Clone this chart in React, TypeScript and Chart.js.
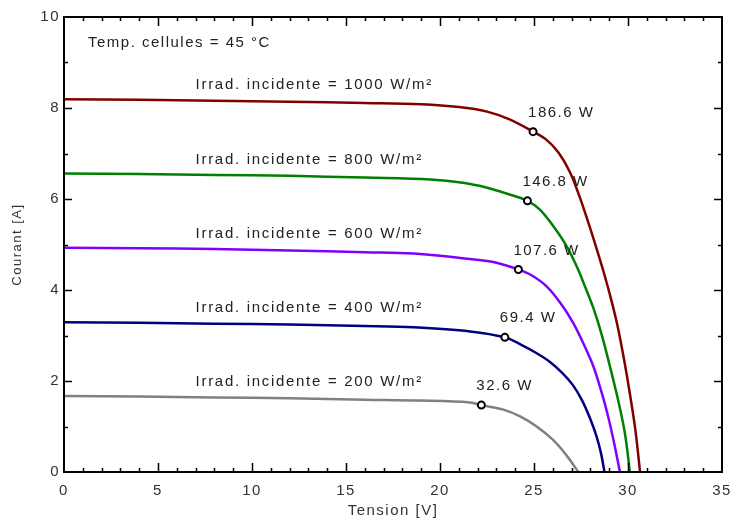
import { useEffect, useRef } from "react";
import { Chart, registerables } from "chart.js";

Chart.register(...registerables);

// ---- Data ----
const xTickValues = [0, 5, 10, 15, 20, 25, 30, 35];
const yTickValues = [0, 2, 4, 6, 8, 10];

const irradiances = [1000, 800, 600, 400, 200];
const seriesColors = ["#800000", "#008000", "#8000ff", "#000080", "#808080"];

const v1000 = [0, 4, 8, 12, 16, 19, 21, 22.5, 23.7, 24.95, 25.67, 26.3, 26.9, 27.4, 27.9, 28.35, 28.75, 29.1, 29.45, 29.8, 30.1, 30.4, 30.64];
const i1000 = [8.19, 8.18, 8.16, 8.14, 8.11, 8.08, 8.02, 7.92, 7.75, 7.48, 7.3, 7.02, 6.6, 6.08, 5.47, 4.88, 4.33, 3.8, 3.2, 2.45, 1.72, 0.9, 0];

const v800 = [0, 4, 8, 12, 16, 19.5, 21, 22.1, 23.7, 24.65, 25.3, 26.03, 26.74, 27.27, 27.71, 28.16, 28.6, 29.04, 29.49, 29.84, 30.1];
const i800 = [6.56, 6.55, 6.53, 6.51, 6.47, 6.43, 6.37, 6.29, 6.1, 5.96, 5.77, 5.4, 4.96, 4.52, 4.08, 3.6, 3.02, 2.32, 1.55, 0.84, 0];

const v600 = [0, 4, 8, 12, 16, 18.6, 21.6, 23, 24.17, 24.8, 25.67, 26.5, 27.09, 27.62, 28.16, 28.51, 28.87, 29.22, 29.57];
const i600 = [4.93, 4.92, 4.9, 4.87, 4.83, 4.8, 4.68, 4.6, 4.45, 4.34, 4.08, 3.66, 3.27, 2.83, 2.32, 1.87, 1.34, 0.72, 0];

const v400 = [0, 4, 8, 12, 16, 18.6, 21.6, 23.45, 24.3, 25.1, 25.85, 26.5, 27.05, 27.55, 28.0, 28.33, 28.56, 28.75];
const i400 = [3.29, 3.28, 3.26, 3.24, 3.21, 3.18, 3.09, 2.96, 2.8, 2.62, 2.42, 2.18, 1.92, 1.58, 1.16, 0.78, 0.42, 0];

const v200 = [0, 4, 8, 12, 16, 18.9, 21.6, 22.2, 23.37, 24.26, 25.14, 26.03, 26.74, 27.36];
const i200 = [1.67, 1.66, 1.64, 1.62, 1.59, 1.57, 1.53, 1.47, 1.37, 1.22, 1.0, 0.7, 0.36, 0];

const voltages = [v1000, v800, v600, v400, v200];
const currents = [i1000, i800, i600, i400, i200];

const mppVoltage = [24.95, 24.65, 24.17, 23.45, 22.2];
const mppCurrent = [7.48, 5.96, 4.45, 2.96, 1.47];
const mppLabels = ["186.6 W", "146.8 W", "107.6 W", "69.4 W", "32.6 W"];

const irradLabelVoltage = 7;
const tempLabel = "Temp. cellules = 45 °C";
const xTitle = "Tension [V]";
const yTitle = "Courant [A]";

const FONT = "'Liberation Sans', Arial, sans-serif";

export default function App() {
  const canvasRef = useRef<HTMLCanvasElement | null>(null);

  useEffect(() => {
    document.body.style.margin = "0";
    const canvas = canvasRef.current;
    if (!canvas) return;

    const spacingPlugin = {
      id: "spacing",
      beforeDraw(chart: any) {
        chart.ctx.letterSpacing = "1.5px";
      },
    };

    const framePlugin = {
      id: "frame",
      afterDatasetsDraw(chart: any) {
        const { ctx, chartArea: a, scales } = chart;
        const xs = scales.x;
        const ys = scales.y;
        ctx.save();
        ctx.strokeStyle = "#000";
        ctx.lineWidth = 1.5;
        ctx.beginPath();
        for (let v = 1; v < 35; v++) {
          const len = v % 5 === 0 ? 9 : 4;
          const px = Math.round(xs.getPixelForValue(v)) + 0.5;
          ctx.moveTo(px, a.bottom);
          ctx.lineTo(px, a.bottom - len);
          ctx.moveTo(px, a.top);
          ctx.lineTo(px, a.top + len);
        }
        for (let v = 1; v < 10; v++) {
          const len = v % 2 === 0 ? 8 : 4;
          const py = Math.round(ys.getPixelForValue(v)) + 0.5;
          ctx.moveTo(a.left, py);
          ctx.lineTo(a.left + len, py);
          ctx.moveTo(a.right, py);
          ctx.lineTo(a.right - len, py);
        }
        ctx.stroke();
        ctx.lineWidth = 2;
        ctx.strokeRect(a.left, a.top, a.right - a.left, a.bottom - a.top);

        // annotations
        ctx.fillStyle = "#222";
        ctx.font = `15px ${FONT}`;
        ctx.letterSpacing = "1.5px";
        ctx.textAlign = "left";
        ctx.textBaseline = "middle";
        ctx.fillText(tempLabel, a.left + 24, a.top + 26);
        mppLabels.forEach((lab, k) => {
          const px = xs.getPixelForValue(mppVoltage[k]) - 5;
          const py = ys.getPixelForValue(mppCurrent[k]) - 19;
          ctx.fillText(lab, px, py);
        });
        ctx.letterSpacing = "1.7px";
        irradiances.forEach((irr, k) => {
          const px = xs.getPixelForValue(irradLabelVoltage);
          const py = ys.getPixelForValue(currents[k][0]) - 14;
          ctx.fillText(`Irrad. incidente = ${irr} W/m²`, px, py);
        });
        ctx.restore();
      },
    };

    const curveSets = voltages.map((vs, k) => ({
      label: `${irradiances[k]} W/m²`,
      data: vs.map((v, j) => ({ x: v, y: currents[k][j] })),
      showLine: true,
      borderColor: seriesColors[k],
      borderWidth: 2.5,
      pointRadius: 0,
      tension: 0.35,
      fill: false,
    }));

    const mppSet = {
      label: "MPP",
      data: mppVoltage.map((v, j) => ({ x: v, y: mppCurrent[j] })),
      showLine: false,
      pointRadius: 3.5,
      pointBorderWidth: 2,
      pointBorderColor: "#000",
      pointBackgroundColor: "#fff",
      borderColor: "#000",
      backgroundColor: "#fff",
    };

    const chart = new Chart(canvas, {
      type: "scatter",
      data: { datasets: [mppSet as any, ...curveSets] },
      plugins: [spacingPlugin, framePlugin],
      options: {
        responsive: false,
        animation: false,
        layout: { padding: { top: 17, right: 10, left: 0, bottom: 0 } },
        plugins: {
          legend: { display: false },
          tooltip: { enabled: false },
        },
        scales: {
          x: {
            type: "linear",
            min: 0,
            max: 35,
            afterBuildTicks: (s: any) => {
              s.ticks = xTickValues.map((v) => ({ value: v }));
            },
            afterFit: (s: any) => {
              s.height = 50;
              s.paddingLeft = 0;
              s.paddingRight = 0;
            },
            grid: { display: false, drawTicks: false },
            border: { display: false },
            ticks: {
              padding: 10,
              color: "#333",
              font: { family: FONT, size: 15 },
              maxRotation: 0,
            },
            title: {
              display: true,
              text: xTitle,
              color: "#333",
              font: { family: FONT, size: 15 },
              padding: { top: 0, bottom: 2 },
            },
          },
          y: {
            type: "linear",
            min: 0,
            max: 10,
            afterBuildTicks: (s: any) => {
              s.ticks = yTickValues.map((v) => ({ value: v }));
            },
            afterFit: (s: any) => {
              s.width = 64;
              s.paddingTop = 0;
              s.paddingBottom = 0;
            },
            grid: { display: false, drawTicks: false },
            border: { display: false },
            ticks: {
              padding: 4,
              color: "#333",
              font: { family: FONT, size: 15 },
            },
            title: {
              display: true,
              text: yTitle,
              color: "#333",
              font: { family: FONT, size: 13 },
              padding: { top: 10, bottom: 0 },
            },
          },
        },
      },
    });

    return () => chart.destroy();
  }, []);

  return (
    <div style={{ width: 732, height: 522, background: "#fff" }}>
      <canvas ref={canvasRef} width={732} height={522} style={{ display: "block" }} />
    </div>
  );
}
